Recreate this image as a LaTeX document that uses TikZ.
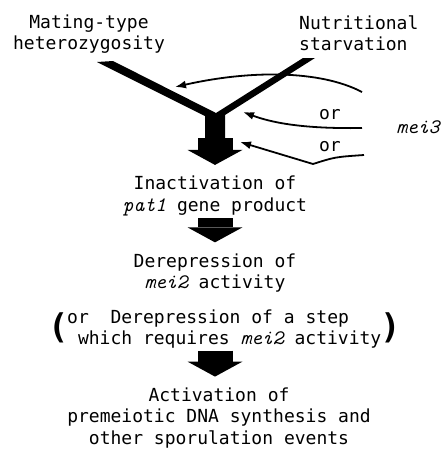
\documentclass[tikz,border=0pt]{standalone}
\usepackage{fontspec}
\setmainfont{DejaVu Sans Mono}
\usepackage{tikz}
\usetikzlibrary{arrows.meta,calc}
\newcommand{\gene}[1]{{\ttfamily\itshape\fontsize{20.6}{21.5}\selectfont #1}}
\tikzset{
  txt/.style={inner sep=0pt,align=center,font=\fontsize{18}{21.5}\selectfont},
  txtl/.style={txt,align=left},
  paren/.style={inner sep=0pt,font=\fontsize{34}{34}\selectfont\bfseries},
  blockarr/.style={line width=35pt,-{Triangle[length=15pt,width=55pt,line width=0pt]},shorten <=2pt,shorten >=11pt},
  thinarr/.style={-{Latex[length=11pt,width=8pt]},line width=1.8pt},
}

\begin{document}
\begin{tikzpicture}[x=1pt,y=-1pt]
\useasboundingbox (0,0) rectangle (442,451);
% inputs
\node[txt] (mating) at (89,34) {Mating-type\\heterozygosity};
\node[txtl,anchor=west] (nutri) at (299,33) {Nutritional\\starvation};
\node[txt] (or1) at (330,115) {or};
\node[txt] (or2) at (330,147) {or};
\node[txt] (mei3) at (418,127) {\gene{mei3}};
% cascade
\node[txt] (inact) at (215,196) {Inactivation of\\\gene{pat1} gene product};
\node[txt] (derep) at (215,273) {Derepression of\\\gene{mei2} activity};
\node[txtl,anchor=west] (alt) at (67,329) {or\ \ Derepression of a step\\\hspace*{10.8pt}which requires \gene{mei2} activity};
\node[paren] (lpar) at (59,328) {(};
\node[paren] (rpar) at (391,328) {)};
\node[txt] (act) at (219,418) {Activation of\\premeiotic DNA synthesis and\\other sporulation events};
% the V
\coordinate (la) at (97,62);
\coordinate (lb) at (113,61);
\coordinate (vi) at (216,113);
\coordinate (ra) at (303,58);
\coordinate (rb) at (315,58);
\coordinate (sr) at (225,115);
\coordinate (sl) at (205,116);
\coordinate (jn) at (215,136);
\fill (la) -- (lb) -- (vi) -- (ra) -- (rb) -- (sr) -- (225,140) -- (205,140) -- (sl) -- cycle;
\draw[blockarr] (jn) -- (inact.north);
\draw[blockarr] (inact.south) -- (derep.north);
\draw[blockarr] (derep |- alt.south) -- (derep |- act.north);
% mei3 arrows
\coordinate (m1) at (362,92);
\coordinate (t1) at (175,87);
\coordinate (m2) at (362,128);
\coordinate (t2) at (243,112);
\coordinate (m3) at (364,155);
\coordinate (k3) at (313,164);
\coordinate (t3) at (240,142);
\draw[thinarr] (m1) .. controls (320,70) and (250,70) .. (t1);
\draw[thinarr] (m2) .. controls (300,129) and (270,122) .. (t2);
\draw[thinarr] (m3) .. controls (335,157) .. (k3) -- (t3);
\end{tikzpicture}
\end{document}
